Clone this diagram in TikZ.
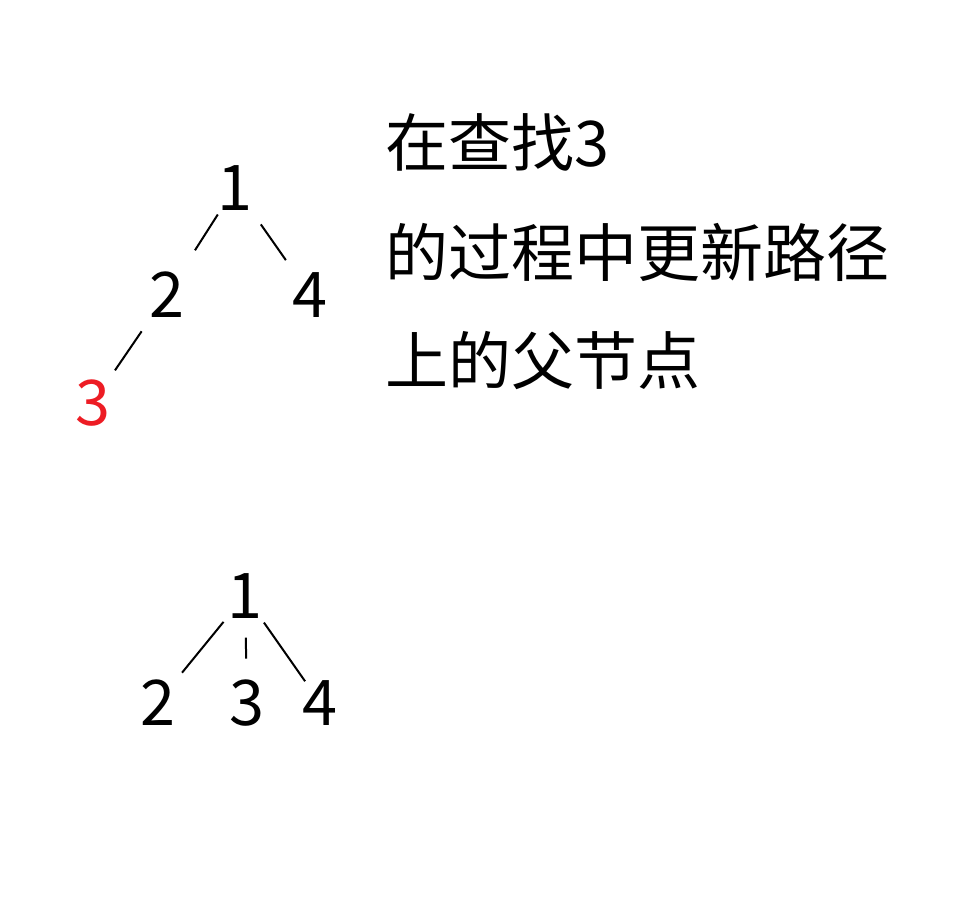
\documentclass[tikz,border=0pt]{standalone}
\usepackage{fontspec}
\setmainfont{Noto Sans CJK SC}
\definecolor{hired}{RGB}{237,28,36}
\begin{document}
\begin{tikzpicture}[x=1pt,y=-1pt,
  num/.style={inner sep=0pt,anchor=base,font=\fontsize{63}{70}\selectfont},
  txt/.style={inner sep=0pt,anchor=base west,font=\fontsize{63}{70}\selectfont},
  edge/.style={draw=black,line width=2pt}]
\useasboundingbox (0,0) rectangle (968,912);
% tree 1
\node[num] (a1) at (235,210) {1};
\node[num] (a2) at (167,317) {2};
\node[num] (a4) at (310,317) {4};
\node[num,text=hired] (a3) at (93,425) {3};
\draw[edge,shorten <=32pt,shorten >=52pt] (a1.center) -- (a2.center);
\draw[edge,shorten <=45pt,shorten >=42pt] (a1.center) -- (a4.center);
\draw[edge,shorten <=45pt,shorten >=39pt] (a2.center) -- (a3.center);
% tree 2
\node[num] (b1) at (245,618) {1};
\node[num] (b2) at (158,725) {2};
\node[num] (b3) at (247,725) {3};
\node[num] (b4) at (320,725) {4};
\draw[edge,shorten <=34pt,shorten >=38pt] (b1.center) -- (b2.center);
\draw[edge,shorten <=42pt,shorten >=44pt] (b1.center) -- (b3.center);
\draw[edge,shorten <=33pt,shorten >=26pt] (b1.center) -- (b4.center);
% text
\node[txt] (t1) at (385,167) {在查找3};
\node[txt] (t2) at (385,276) {的过程中更新路径};
\node[txt] (t3) at (385,384) {上的父节点};
\end{tikzpicture}
\end{document}
